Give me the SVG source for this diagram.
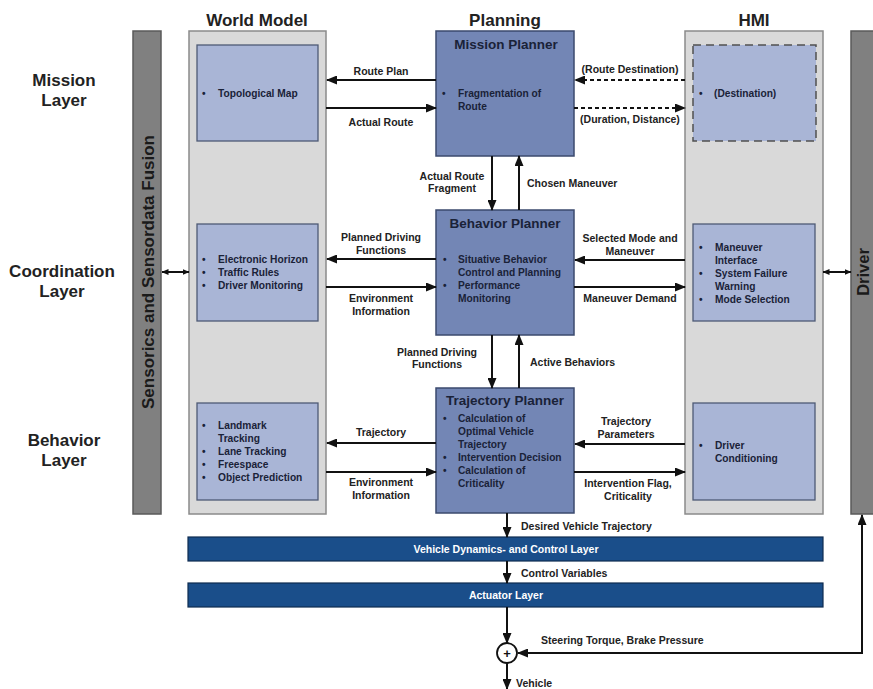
<svg xmlns="http://www.w3.org/2000/svg" width="873" height="689" viewBox="0 0 873 689">
<defs>
<style>
text{font-family:"Liberation Sans",Arial,sans-serif;font-weight:bold}
.h{font-size:17px;fill:#222;text-anchor:middle}
.t{font-size:13.5px;fill:#1a2238;text-anchor:middle}
.b{font-size:10.2px;fill:#1a2238}
.e{font-size:10.5px;fill:#222}
.em{font-size:10.5px;fill:#222;text-anchor:middle}
.w{font-size:10.5px;fill:#fff;text-anchor:middle}
.panel{fill:#d9d9d9;stroke:#8a8a8a;stroke-width:1.5}
.bar{fill:#808080;stroke:#5a5a5a;stroke-width:1.5}
.plan{fill:#7386b5;stroke:#3b4a6e;stroke-width:1.5}
.lt{fill:#a9b5d6;stroke:#4e5a75;stroke-width:1.3}
.blue{fill:#1a4e8a;stroke:#0e2c50;stroke-width:1.2}
.c{stroke:#111;stroke-width:2;fill:none}
.d{stroke:#111;stroke-width:2;fill:none;stroke-dasharray:4,3}
</style>
<marker id="ah" markerUnits="userSpaceOnUse" markerWidth="11" markerHeight="9" refX="10" refY="4.5" orient="auto-start-reverse"><path d="M0,0 L11,4.5 L0,9 z" fill="#111"/></marker>
<marker id="sh" markerUnits="userSpaceOnUse" markerWidth="7" markerHeight="6" refX="6.5" refY="3" orient="auto-start-reverse"><path d="M0,0 L7,3 L0,6 z" fill="#111"/></marker>
</defs>
<rect width="873" height="689" fill="#fff"/>

<g id="layer-labels">
<text class="h" x="64" y="86">Mission</text><text class="h" x="64" y="106">Layer</text>
<text class="h" x="62" y="277">Coordination</text><text class="h" x="62" y="297">Layer</text>
<text class="h" x="64" y="446">Behavior</text><text class="h" x="64" y="466">Layer</text>
</g>
<g id="headers">
<text class="h" x="257" y="26">World Model</text>
<text class="h" x="505" y="26">Planning</text>
<text class="h" x="754" y="26">HMI</text>
</g>

<g id="sensorics">
<rect class="bar" x="133" y="31" width="28" height="483"/>
<text class="h" transform="translate(154,272) rotate(-90)" style="fill:#1a1a1a">Sensorics and Sensordata Fusion</text>
</g>
<g id="driver">
<rect class="bar" x="851" y="31" width="30" height="483"/>
<text class="h" transform="translate(869,272) rotate(-90)" style="fill:#1a1a1a;font-size:16.5px">Driver</text>
</g>

<g id="world-model"><rect class="panel" x="189" y="31" width="137" height="483"/></g>
<g id="hmi"><rect class="panel" x="685" y="31" width="138" height="483"/></g>

<g id="topological-map">
<rect class="lt" x="197" y="45" width="121" height="96"/>
<text class="b" x="202" y="97">•</text><text class="b" x="218" y="97">Topological Map</text>
</g>
<g id="wm-coordination">
<rect class="lt" x="197" y="224" width="121" height="97"/>
<text class="b" x="202" y="263">•</text><text class="b" x="218" y="263">Electronic Horizon</text>
<text class="b" x="202" y="276">•</text><text class="b" x="218" y="276">Traffic Rules</text>
<text class="b" x="202" y="289">•</text><text class="b" x="218" y="289">Driver Monitoring</text>
</g>
<g id="wm-behavior">
<rect class="lt" x="197" y="403" width="121" height="97"/>
<text class="b" x="202" y="429">•</text><text class="b" x="218" y="429">Landmark</text>
<text class="b" x="218" y="442">Tracking</text>
<text class="b" x="202" y="455">•</text><text class="b" x="218" y="455">Lane Tracking</text>
<text class="b" x="202" y="468">•</text><text class="b" x="218" y="468">Freespace</text>
<text class="b" x="202" y="481">•</text><text class="b" x="218" y="481">Object Prediction</text>
</g>

<g id="mission-planner">
<rect class="plan" x="436" y="31" width="138" height="125"/>
<text class="t" x="506" y="49">Mission Planner</text>
<text class="b" x="442" y="97">•</text><text class="b" x="458" y="97">Fragmentation of</text>
<text class="b" x="458" y="110">Route</text>
</g>
<g id="behavior-planner">
<rect class="plan" x="436" y="210" width="138" height="125"/>
<text class="t" x="505" y="228">Behavior Planner</text>
<text class="b" x="443" y="263">•</text><text class="b" x="458" y="263">Situative Behavior</text>
<text class="b" x="458" y="276">Control and Planning</text>
<text class="b" x="443" y="289">•</text><text class="b" x="458" y="289">Performance</text>
<text class="b" x="458" y="302">Monitoring</text>
</g>
<g id="trajectory-planner">
<rect class="plan" x="436" y="388" width="138" height="125"/>
<text class="t" x="505" y="405">Trajectory Planner</text>
<text class="b" x="443" y="422">•</text><text class="b" x="458" y="422">Calculation of</text>
<text class="b" x="458" y="435">Optimal Vehicle</text>
<text class="b" x="458" y="448">Trajectory</text>
<text class="b" x="443" y="461">•</text><text class="b" x="458" y="461">Intervention Decision</text>
<text class="b" x="443" y="474">•</text><text class="b" x="458" y="474">Calculation of</text>
<text class="b" x="458" y="487">Criticality</text>
</g>

<g id="destination">
<rect class="lt" x="693" y="45" width="123" height="96" style="stroke:#505050;stroke-dasharray:8,5;stroke-width:1.5"/>
<text class="b" x="699" y="97">•</text><text class="b" x="714" y="97">(Destination)</text>
</g>
<g id="hmi-coordination">
<rect class="lt" x="693" y="224" width="122" height="97"/>
<text class="b" x="699" y="251">•</text><text class="b" x="715" y="251">Maneuver</text>
<text class="b" x="715" y="264">Interface</text>
<text class="b" x="699" y="277">•</text><text class="b" x="715" y="277">System Failure</text>
<text class="b" x="715" y="290">Warning</text>
<text class="b" x="699" y="303">•</text><text class="b" x="715" y="303">Mode Selection</text>
</g>
<g id="driver-conditioning">
<rect class="lt" x="693" y="403" width="122" height="97"/>
<text class="b" x="699" y="449">•</text><text class="b" x="715" y="449">Driver</text>
<text class="b" x="715" y="462">Conditioning</text>
</g>

<g id="vehicle-dynamics">
<rect class="blue" x="188" y="537" width="635" height="24"/>
<text class="w" x="506" y="553">Vehicle Dynamics- and Control Layer</text>
</g>
<g id="actuator-layer">
<rect class="blue" x="188" y="583" width="635" height="24"/>
<text class="w" x="506" y="599">Actuator Layer</text>
</g>
<g id="sum">
<circle cx="507" cy="653" r="10" fill="#fff" stroke="#111" stroke-width="1.8"/>
<text x="507" y="657.5" style="font-size:13px;text-anchor:middle;fill:#111">+</text>
</g>

<g id="connectors">
<line class="c" x1="436" y1="80" x2="327" y2="80" marker-end="url(#ah)"/>
<line class="c" x1="326" y1="108" x2="436" y2="108" marker-end="url(#ah)"/>
<line class="d" x1="685" y1="80" x2="575" y2="80" marker-end="url(#ah)"/>
<line class="d" x1="574" y1="108" x2="685" y2="108" marker-end="url(#ah)"/>
<line class="c" x1="492" y1="156" x2="492" y2="210" marker-end="url(#ah)"/>
<line class="c" x1="519" y1="210" x2="519" y2="156" marker-end="url(#ah)"/>
<line class="c" x1="436" y1="259" x2="327" y2="259" marker-end="url(#ah)"/>
<line class="c" x1="326" y1="287" x2="436" y2="287" marker-end="url(#ah)"/>
<line class="c" x1="685" y1="260" x2="575" y2="260" marker-end="url(#ah)"/>
<line class="c" x1="574" y1="287" x2="685" y2="287" marker-end="url(#ah)"/>
<line class="c" x1="492" y1="335" x2="492" y2="388" marker-end="url(#ah)"/>
<line class="c" x1="519" y1="388" x2="519" y2="335" marker-end="url(#ah)"/>
<line class="c" x1="436" y1="443" x2="327" y2="443" marker-end="url(#ah)"/>
<line class="c" x1="326" y1="472" x2="436" y2="472" marker-end="url(#ah)"/>
<line class="c" x1="685" y1="444" x2="575" y2="444" marker-end="url(#ah)"/>
<line class="c" x1="574" y1="472" x2="685" y2="472" marker-end="url(#ah)"/>
<line class="c" x1="162" y1="272" x2="189" y2="272" stroke-width="1.5" marker-start="url(#sh)" marker-end="url(#sh)"/>
<line class="c" x1="823" y1="272" x2="851" y2="272" stroke-width="1.5" marker-start="url(#sh)" marker-end="url(#sh)"/>
<line class="c" x1="507" y1="513" x2="507" y2="537" marker-end="url(#ah)"/>
<line class="c" x1="507" y1="561" x2="507" y2="583" marker-end="url(#ah)"/>
<line class="c" x1="507" y1="607" x2="507" y2="643" marker-end="url(#ah)"/>
<polyline class="c" points="518,653 862,653 862,515" marker-start="url(#ah)" marker-end="url(#ah)"/>
<line class="c" x1="507" y1="663" x2="507" y2="689" marker-end="url(#ah)"/>
</g>

<g id="connector-labels">
<text class="em" x="381" y="75">Route Plan</text>
<text class="em" x="381" y="126">Actual Route</text>
<text class="em" x="630" y="73">(Route Destination)</text>
<text class="em" x="630" y="123">(Duration, Distance)</text>
<text class="em" x="452" y="180">Actual Route</text>
<text class="em" x="452" y="192">Fragment</text>
<text class="e" x="527" y="187">Chosen Maneuver</text>
<text class="em" x="381" y="241">Planned Driving</text>
<text class="em" x="381" y="254">Functions</text>
<text class="em" x="381" y="302">Environment</text>
<text class="em" x="381" y="315">Information</text>
<text class="em" x="630" y="242">Selected Mode and</text>
<text class="em" x="630" y="255">Maneuver</text>
<text class="em" x="630" y="302">Maneuver Demand</text>
<text class="em" x="437" y="356">Planned Driving</text>
<text class="em" x="437" y="368">Functions</text>
<text class="e" x="530" y="366">Active Behaviors</text>
<text class="em" x="381" y="436">Trajectory</text>
<text class="em" x="381" y="486">Environment</text>
<text class="em" x="381" y="499">Information</text>
<text class="em" x="626" y="425">Trajectory</text>
<text class="em" x="626" y="438">Parameters</text>
<text class="em" x="628" y="487">Intervention Flag,</text>
<text class="em" x="628" y="500">Criticality</text>
<text class="e" x="521" y="530">Desired Vehicle Trajectory</text>
<text class="e" x="521" y="577">Control Variables</text>
<text class="e" x="541" y="644">Steering Torque, Brake Pressure</text>
<text class="e" x="516" y="687">Vehicle</text>
</g>
</svg>
